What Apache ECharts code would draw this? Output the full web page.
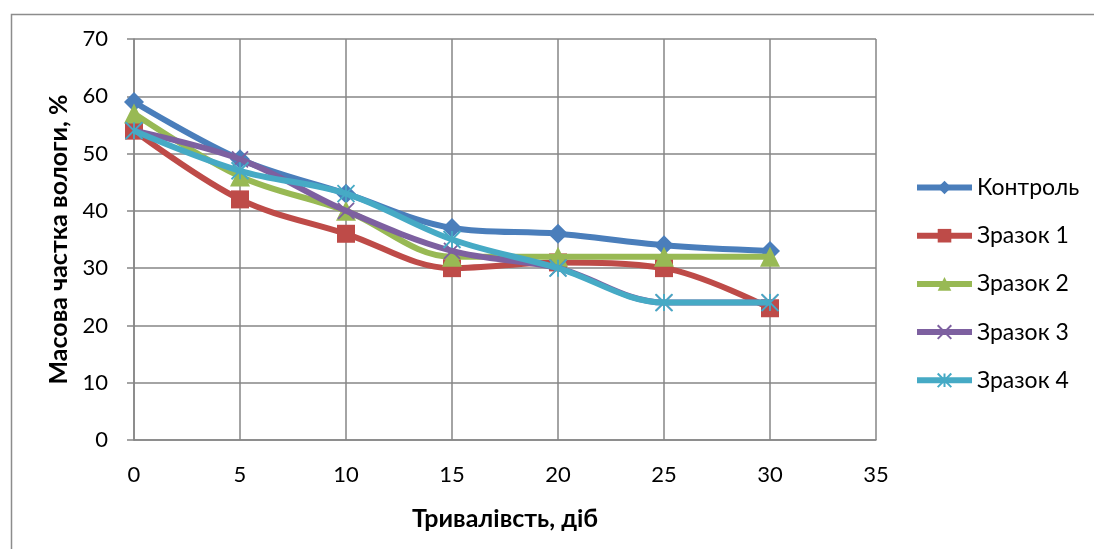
<!DOCTYPE html>
<html><head><meta charset="utf-8">
<script src="https://cdn.jsdelivr.net/npm/echarts@6/dist/echarts.min.js"></script>
<style>html,body{margin:0;padding:0;background:#fff}#c{width:1094px;height:549px}</style>
</head><body><div id="c"></div>
<script>
var days = [0, 5, 10, 15, 20, 25, 30];
var seriesNames = ['Контроль', 'Зразок 1', 'Зразок 2', 'Зразок 3', 'Зразок 4'];
var control = [59, 49, 43, 37, 36, 34, 33];
var sample1 = [54, 42, 36, 30, 31, 30, 23];
var sample2 = [57, 46, 40, 32, 32, 32, 32];
var sample3 = [54, 49, 40, 33, 30, 24, 24];
var sample4 = [54, 47, 43, 35, 30, 24, 24];
var xTicks = [0, 5, 10, 15, 20, 25, 30, 35];
var yTicks = [0, 10, 20, 30, 40, 50, 60, 70];

var colors = ['#4A7EBB', '#BE4B48', '#98B954', '#7D60A0', '#46AAC5'];
var symbols = [
  'diamond', 'rect', 'triangle',
  'path://M0 0 L10 10 M10 0 L0 10',
  'path://M0 0 L10 10 M10 0 L0 10 M5 0 L5 10'
];
var sizes = [20, 18, 20, 16, 17];
var allValues = [control, sample1, sample2, sample3, sample4];

function pairs(vals) { return days.map(function (d, i) { return [d, vals[i]]; }); }

var series = allValues.map(function (vals, k) {
  var isLine = k >= 3;
  return {
    name: seriesNames[k],
    type: 'line',
    data: pairs(vals),
    smooth: 0.35,
    symbol: symbols[k],
    symbolSize: sizes[k],
    showAllSymbol: true,
    lineStyle: { width: 6, color: colors[k] },
    itemStyle: isLine ? { color: colors[k], borderColor: colors[k], borderWidth: 1.8 } : { color: colors[k] },
    z: 2 + k
  };
});

var fontFam = 'Lato';
var chart = echarts.init(document.getElementById('c'), null, { renderer: 'canvas' });
chart.setOption({
  animation: false,
  color: colors,
  graphic: [{
    type: 'rect', left: 9, top: 12, shape: { width: 1200, height: 600 },
    style: { fill: 'none', stroke: '#8c8c8c', lineWidth: 1.5 }, silent: true, z: -10
  }],
  grid: { left: 134, right: 218, top: 39, bottom: 109, containLabel: false },
  xAxis: {
    type: 'value', min: 0, max: 35, interval: 5,
    name: 'Тривалівсть, діб', nameLocation: 'middle', nameGap: 66,
    nameTextStyle: { fontFamily: fontFam, fontWeight: 'bold', fontSize: 25, color: '#000' },
    axisLine: { show: true, onZero: false, lineStyle: { color: '#868686', width: 1.5 } },
    axisTick: { show: false },
    axisLabel: { fontFamily: fontFam, fontSize: 22, color: '#000', margin: 24 },
    splitLine: { show: true, lineStyle: { color: '#868686', width: 1.5 } }
  },
  yAxis: {
    type: 'value', min: 0, max: 70, interval: 10,
    name: 'Масова частка вологи, %', nameLocation: 'middle', nameGap: 61,
    nameTextStyle: { fontFamily: fontFam, fontWeight: 'bold', fontSize: 25, color: '#000' },
    axisLine: { show: true, lineStyle: { color: '#868686', width: 1.5 } },
    axisTick: { show: true, length: 7, lineStyle: { color: '#868686', width: 1.5 } },
    axisLabel: { fontFamily: fontFam, fontSize: 22, color: '#000', margin: 26 },
    splitLine: { show: true, lineStyle: { color: '#868686', width: 1.5 } }
  },
  legend: {
    orient: 'vertical', left: 909, top: 171,
    itemWidth: 55, itemHeight: 17, itemGap: 25.2,
    lineStyle: { width: 6 },
    textStyle: { fontFamily: fontFam, fontSize: 23, color: '#000' },
    data: seriesNames
  },
  series: series
});
</script></body></html>
